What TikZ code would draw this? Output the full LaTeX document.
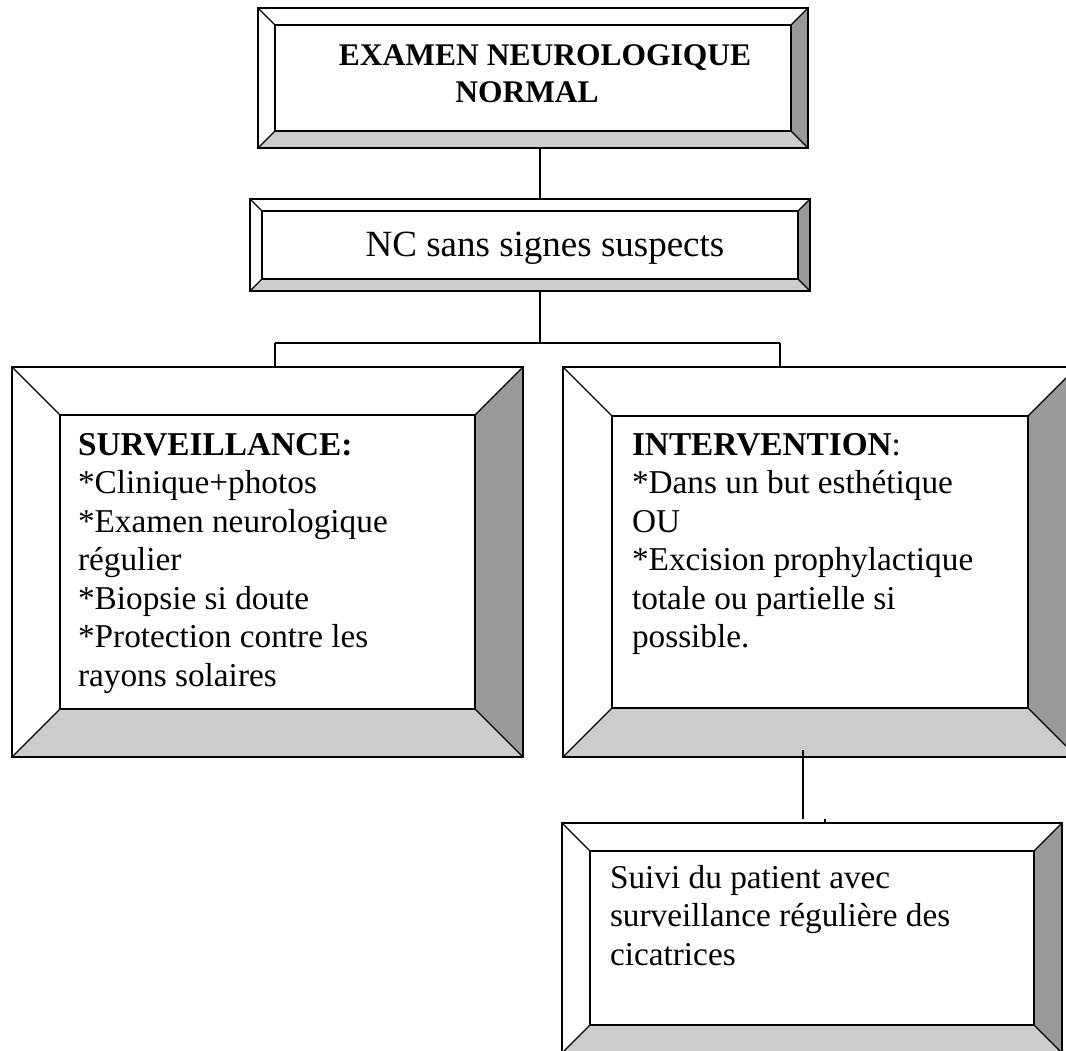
\documentclass[tikz,border=0pt]{standalone}
\usepackage{fontspec}
\setmainfont{Liberation Serif}
\usetikzlibrary{calc}
\definecolor{bevdark}{HTML}{999999}
\definecolor{bevlight}{HTML}{CCCCCC}
\tikzset{
  frame/.style={draw=none, rectangle, inner sep=0pt, outer sep=0pt},
  rim/.style={line width=1.3pt, black, line join=miter},
  link/.style={line width=1.2pt, black},
  bodytext/.style={anchor=base west, inner sep=0pt, outer sep=0pt},
}
% bevelled frame drawn around a named node: #1 node, #2 bevel depth
\newcommand\bevelframe[2]{%
  \path (#1.north west) coordinate (#1-o1) (#1.north east) coordinate (#1-o2)
        (#1.south east) coordinate (#1-o3) (#1.south west) coordinate (#1-o4);
  \path ($(#1-o1)+(#2,#2)$) coordinate (#1-i1) ($(#1-o2)+(-#2,#2)$) coordinate (#1-i2)
        ($(#1-o3)+(-#2,-#2)$) coordinate (#1-i3) ($(#1-o4)+(#2,-#2)$) coordinate (#1-i4);
  \fill[white] (#1-o1) -- (#1-o2) -- (#1-o3) -- (#1-o4) -- cycle;
  \fill[bevdark] (#1-o2) -- (#1-o3) -- (#1-i3) -- (#1-i2) -- cycle;
  \fill[bevlight] (#1-o4) -- (#1-o3) -- (#1-i3) -- (#1-i4) -- cycle;
  \draw[rim] (#1-o1) -- (#1-o2) -- (#1-o3) -- (#1-o4) -- cycle;
  \draw[rim] (#1-i1) -- (#1-i2) -- (#1-i3) -- (#1-i4) -- cycle;
  \draw[rim] (#1-o1) -- (#1-i1) (#1-o2) -- (#1-i2) (#1-o3) -- (#1-i3) (#1-o4) -- (#1-i4);
}
\newcommand\bodyfont{\fontsize{33.3}{38.5}\selectfont}
\begin{document}
\begin{tikzpicture}[x=1pt, y=-1pt]
  \useasboundingbox (0,0) rectangle (1066,1051);
  \fill[white] (0,0) rectangle (1066,1051);
  \clip (0,0) rectangle (1066,1051);

  % frames (outer extents)
  \node[frame, minimum width=550pt, minimum height=140pt] (b1) at (533,78) {};
  \node[frame, minimum width=560pt, minimum height=92pt]  (b2) at (530,245) {};
  \node[frame, minimum width=511pt, minimum height=390pt] (b3) at (267.5,562) {};
  \node[frame, minimum width=514pt, minimum height=390pt] (b4) at (820,562) {};
  \node[frame, minimum width=500pt, minimum height=230pt] (b5) at (812,938) {};

  \bevelframe{b1}{17}
  \bevelframe{b2}{12}
  \bevelframe{b3}{48}
  \bevelframe{b4}{49}
  \bevelframe{b5}{28}

  % connectors
  \coordinate (j)  at (540,343);
  \coordinate (jl) at (275,343);
  \coordinate (jr) at (780,343);
  \draw[link] (b1.south -| j) -- (b2.north -| j);
  \draw[link] (b2.south -| j) -- (j);
  \draw[link] (jl) -- (jr);
  \draw[link] (jl) -- (jl |- b3.north);
  \draw[link] (jr) -- (jr |- b4.north);
  \coordinate (k1) at (803,750);
  \coordinate (k2) at (803,819);
  \draw[link] (k1) -- (k2);
  \coordinate (k3) at (825,819);
  \draw[link] (k3) -- (k3 |- b5.north);

  % texts
  \node[anchor=base, inner sep=0pt, font=\bfseries\fontsize{31.5}{37}\selectfont] (t1a) at (545,66) {EXAMEN NEUROLOGIQUE};
  \node[anchor=base, inner sep=0pt, font=\bfseries\fontsize{31.5}{37}\selectfont] (t1b) at (527,103) {NORMAL};
  \node[anchor=base, inner sep=0pt, font=\fontsize{37}{42}\selectfont] (t2) at (545,257) {NC sans signes suspects};
  \node[bodytext] (t3) at (78,455) {\parbox[t]{420pt}{\bodyfont\raggedright
    \textbf{SURVEILLANCE:}\\
    {*}Clinique+photos\\
    {*}Examen neurologique\\
    régulier\\
    {*}Biopsie si doute\\
    {*}Protection contre les\\
    rayons solaires}};
  \node[bodytext] (t4) at (632,455) {\parbox[t]{420pt}{\bodyfont\raggedright
    \textbf{INTERVENTION}:\\
    {*}Dans un but esthétique\\
    OU\\
    {*}Excision prophylactique\\
    totale ou partielle si\\
    possible.}};
  \node[bodytext] (t5) at (610,888) {\parbox[t]{440pt}{\bodyfont\raggedright
    Suivi du patient avec\\
    surveillance régulière des\\
    cicatrices}};
\end{tikzpicture}
\end{document}
